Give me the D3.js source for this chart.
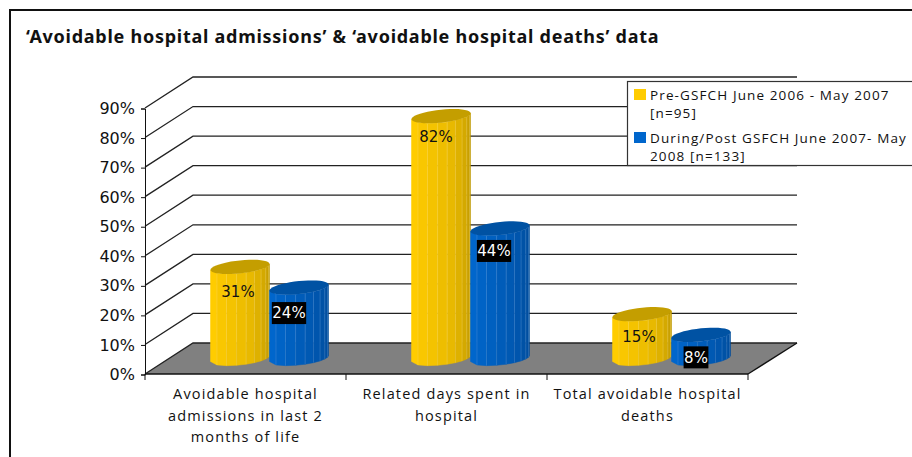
<!DOCTYPE html>
<html>
<head>
<meta charset="utf-8">
<style>
    html, body { margin: 0; padding: 0; background: #fff; overflow: hidden; }
    svg { display: block; }
    text { font-family: "Open Sans", sans-serif; fill: #111; }
    .title { font-family: "Noto Sans", sans-serif; font-weight: 700; font-size: 18px; letter-spacing: 0.74px; }
    .tick-label { font-family: "DejaVu Sans", sans-serif; font-size: 16px; }
    .cat-label { font-size: 14.5px; letter-spacing: 1.15px; }
    .legend-label { font-size: 13.5px; letter-spacing: 1.12px; }
    .value-label { font-family: "DejaVu Sans", sans-serif; font-size: 15px; }
    .domain { stroke: #111; }
</style>
</head>
<body>
<script src="https://d3js.org/d3.v7.min.js"></script>
<script>
var categories = [
    ["Avoidable hospital", "admissions in last 2", "months of life"],
    ["Related days spent in", "hospital"],
    ["Total avoidable hospital", "deaths"]
];
var seriesNames = ["Pre", "Post"];
var preValues = [31, 82, 15];
var postValues = [24, 44, 8];
var yTicks = [0, 10, 20, 30, 40, 50, 60, 70, 80, 90];
var legendLines = [
    ["Pre-GSFCH June 2006 - May 2007", "[n=95]"],
    ["During/Post GSFCH June 2007- May", "2008 [n=133]"]
];
var titleText = "\u2018Avoidable hospital admissions\u2019 & \u2018avoidable hospital deaths\u2019 data";

var width = 912, height = 457;
var depthX = 48, depthY = 31;

var svg = d3.select("body").append("svg")
    .attr("width", width)
    .attr("height", height);

var y = d3.scaleLinear().domain([0, 90]).range([374, 108]);
var x0 = d3.scaleBand().domain(d3.range(categories.length)).range([145, 748]);
var x1 = d3.scaleBand().domain(seriesNames).range([-59, 59]);

// frame
svg.append("rect").attr("x", 10).attr("y", 10)
    .attr("width", 930).attr("height", 470)
    .attr("fill", "#fff").attr("stroke", "#111").attr("stroke-width", 2);

svg.append("text").attr("class", "title")
    .attr("x", 26).attr("y", 43)
    .text(titleText);

/* ------- FLOOR AND WALLS -------*/

var lineGen = d3.line();

svg.append("path")
    .attr("d", lineGen([[145, y(0)], [145 + depthX, y(0) - depthY], [748 + depthX + 1, y(0) - depthY], [748, y(0)]]) + "Z")
    .attr("fill", "#808080");

yTicks.forEach(function (t) {
    svg.append("path")
        .attr("d", lineGen([[145, y(t)], [145 + depthX, y(t) - depthY], [748 + depthX + 1, y(t) - depthY]]))
        .attr("fill", "none")
        .attr("stroke", "#222")
        .attr("stroke-width", 1.3);
});

svg.append("path")
    .attr("d", lineGen([[748, y(0)], [748 + depthX + 1, y(0) - depthY]]))
    .attr("stroke", "#111").attr("stroke-width", 1.3).attr("fill", "none");

/* ------- AXES -------*/

var yAxis = svg.append("g")
    .attr("transform", "translate(145,0.5)")
    .call(d3.axisLeft(y).tickValues(yTicks).tickSize(4).tickPadding(6)
        .tickFormat(function (d) { return d + "%"; }));
yAxis.selectAll("text").attr("class", "tick-label").attr("fill", "#111");
yAxis.selectAll("line").attr("stroke", "#111");

var xAxis = svg.append("g");
xAxis.append("line")
    .attr("x1", x0.range()[0]).attr("x2", x0.range()[1])
    .attr("y1", y(0)).attr("y2", y(0))
    .attr("stroke", "#111").attr("stroke-width", 1.3);
d3.range(categories.length + 1).forEach(function (i) {
    var tx = x0.range()[0] + i * x0.step();
    xAxis.append("line")
        .attr("x1", tx).attr("x2", tx)
        .attr("y1", y(0)).attr("y2", y(0) + 6)
        .attr("stroke", "#111");
});
categories.forEach(function (lines, i) {
    var t = xAxis.append("text")
        .attr("class", "cat-label")
        .attr("text-anchor", "middle");
    lines.forEach(function (line, j) {
        t.append("tspan")
            .attr("x", x0(i) + x0.bandwidth() / 2)
            .attr("y", 399 + j * 21.5)
            .text(line);
    });
});

/* ------- CYLINDERS -------*/

var rx = x1.bandwidth() / 2, ry = 6.5, tilt = -3;
var facetCount = 9;

var palettes = {
    Pre: { light: "#FFCC00", mid: "#E8B900", dark: "#BF9800", cap: "#C49E00", rim: "#FFE680" },
    Post: { light: "#0066CC", mid: "#0059B3", dark: "#004A99", cap: "#0052A3", rim: "#6FA8E6" }
};

// label nudges from the bar centre, in px
var labelNudge = {
    Pre: [[-2, 9], [-5, 5], [-3, 7]],
    Post: [[-10, 10], [-6, 7], [-5, 7]]
};

function ring(cx, cy, t) {
    return [cx + rx * Math.cos(t), cy + ry * Math.sin(t) + tilt * Math.cos(t)];
}

function facetAngle(k) {
    return Math.PI * (1 - Math.pow(k / facetCount, 0.7));
}

function drawCylinder(i, name, value) {
    var cx = x0(i) + x0.bandwidth() / 2 + depthX / 2 + x1(name) + rx;
    var base = y(0) - depthY / 2;
    var top = y(value) - depthY / 2;
    var pal = palettes[name];
    var shade = d3.scaleLinear().domain([0, 0.5, 1]).range([pal.light, pal.mid, pal.dark]);
    var g = svg.append("g");

    d3.range(facetCount).forEach(function (k) {
        var a0 = facetAngle(k), a1 = facetAngle(k + 1);
        g.append("path")
            .attr("d", lineGen([ring(cx, top, a0), ring(cx, top, a1), ring(cx, base, a1), ring(cx, base, a0)]) + "Z")
            .attr("fill", shade(k / (facetCount - 1)))
            .attr("stroke", shade(k / (facetCount - 1)))
            .attr("stroke-width", 0.5);
        if (k > 0) {
            g.append("line")
                .attr("x1", ring(cx, top, a0)[0]).attr("y1", ring(cx, top, a0)[1])
                .attr("x2", ring(cx, base, a0)[0]).attr("y2", ring(cx, base, a0)[1])
                .attr("stroke", pal.rim).attr("stroke-opacity", 0.3);
        }
    });

    var capPoints = d3.range(40).map(function (k) { return ring(cx, top, k * 2 * Math.PI / 40); });
    g.append("path")
        .attr("d", lineGen(capPoints) + "Z")
        .attr("fill", pal.cap);
}

function drawLabel(i, name, value) {
    var cx = x0(i) + x0.bandwidth() / 2 + depthX / 2 + x1(name) + rx;
    var nudge = labelNudge[name][i];
    var ly = y(value) + nudge[1];
    var t = svg.append("text").attr("class", "value-label")
        .attr("x", cx + nudge[0]).attr("y", ly)
        .attr("dy", "0.36em")
        .attr("text-anchor", "middle")
        .text(value + "%");
    if (name === "Post") {
        t.style("fill", "#fff");
        var b = t.node().getBBox();
        svg.insert("rect", function () { return t.node(); })
            .attr("x", b.x - 0.5).attr("y", ly - 11)
            .attr("width", b.width + 1).attr("height", 22)
            .attr("fill", "#000");
    }
}

categories.forEach(function (c, i) {
    drawCylinder(i, "Pre", preValues[i]);
    drawCylinder(i, "Post", postValues[i]);
});
categories.forEach(function (c, i) {
    drawLabel(i, "Pre", preValues[i]);
    drawLabel(i, "Post", postValues[i]);
});

/* ------- LEGEND -------*/

var legend = svg.append("g");
legend.append("rect")
    .attr("x", 627.5).attr("y", 81.5)
    .attr("width", 300).attr("height", 84)
    .attr("fill", "#fff").attr("stroke", "#333").attr("stroke-width", 1.2);

legendLines.forEach(function (lines, i) {
    var rowY = 89 + i * 43;
    legend.append("rect")
        .attr("x", 634).attr("y", rowY)
        .attr("width", 12).attr("height", 11)
        .attr("fill", palettes[seriesNames[i]].light);
    lines.forEach(function (line, j) {
        legend.append("text").attr("class", "legend-label")
            .attr("x", 650).attr("y", rowY + 11 + j * 18)
            .text(line);
    });
});
</script>
</body>
</html>
